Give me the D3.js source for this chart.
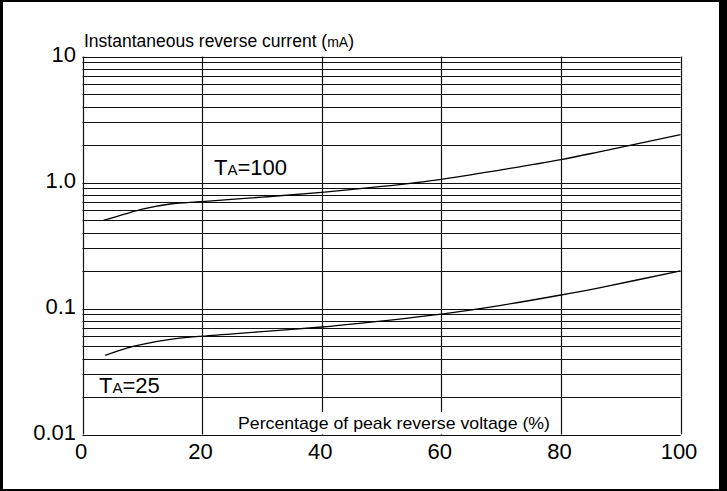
<!DOCTYPE html>
<html><head><meta charset="utf-8">
<script src="https://cdn.jsdelivr.net/npm/d3@7"></script>
<style>html,body{margin:0;padding:0;background:#fff;}svg{display:block;}</style>
</head><body>
<script>
// ---- data ----
const xTicks = [0, 20, 40, 60, 80, 100];
const yTicks = [10, 1.0, 0.1, 0.01];
const yTickLabels = ["10", "1.0", "0.1", "0.01"];
const pct100 = [3.5, 7, 10, 14.7, 20, 30, 40, 50, 60, 70, 80, 86.4, 100];
const cur100 = [0.50, 0.56, 0.615, 0.675, 0.705, 0.765, 0.835, 0.93, 1.06, 1.26, 1.52, 1.75, 2.40];
const pct25 = [3.8, 7.4, 10, 14.7, 20, 30, 40, 46.3, 60, 70, 80, 86.4, 100];
const cur25 = [0.0425, 0.0485, 0.052, 0.0568, 0.0603, 0.0655, 0.0713, 0.0763, 0.0904, 0.106, 0.128, 0.146, 0.199];
const yTitle = "Instantaneous reverse current (";
const yUnit = "mA";
const xTitle = "Percentage of peak reverse voltage (%)";

const W = 727, H = 491;
const svg = d3.select("body").append("svg").attr("width", W).attr("height", H);
const font = "'Liberation Sans', Arial, sans-serif";

// frame
svg.append("rect").attr("x", 0).attr("y", 0).attr("width", W).attr("height", H).attr("fill", "#000");
svg.append("rect").attr("x", 3).attr("y", 2).attr("width", 716).attr("height", H - 4).attr("fill", "#fff");

const x = d3.scaleLinear().domain([0, 100]).range([82.5, 680.5]);
const y = d3.scaleLog().domain([0.01, 10]).range([434.5, 56.5]);

// horizontal grid (1..9 per decade)
const minor = [];
[0.01, 0.1, 1].forEach(d => { for (let k = 1; k <= 9; k++) minor.push(d * k); });
minor.push(10);
svg.append("g").selectAll("line").data(minor).join("line")
  .attr("x1", x(0)).attr("x2", x(100))
  .attr("y1", d => Math.round(y(d)) + 0.5).attr("y2", d => Math.round(y(d)) + 0.5)
  .attr("stroke", "#111").attr("stroke-width", 1.2);

// vertical grid
svg.append("g").selectAll("line").data(xTicks).join("line")
  .attr("x1", d => Math.round(x(d)) + 0.5).attr("x2", d => Math.round(x(d)) + 0.5)
  .attr("y1", y(10)).attr("y2", y(0.01))
  .attr("stroke", "#111").attr("stroke-width", 1.2);

// x title with white box
svg.append("rect").attr("x", 236).attr("y", 412).attr("width", 318).attr("height", 22).attr("fill", "#fff");
svg.append("text").attr("x", 238).attr("y", 428.5).attr("font-family", font).attr("font-size", 17)
  .attr("textLength", 312).attr("lengthAdjust", "spacingAndGlyphs").text(xTitle);

// y title
const yt = svg.append("text").attr("x", 84).attr("y", 46.5).attr("font-family", font).attr("font-size", 17.5);
yt.append("tspan").text(yTitle);
yt.append("tspan").attr("font-size", 14).text(yUnit);
yt.append("tspan").text(")");

// y tick labels
svg.append("g").selectAll("text").data(yTicks).join("text")
  .attr("x", 76).attr("y", d => y(d) + 5)
  .attr("text-anchor", "end").attr("font-family", font).attr("font-size", 22)
  .text((d, i) => yTickLabels[i]);

// x tick labels
svg.append("g").selectAll("text").data(xTicks).join("text")
  .attr("x", d => x(d) - 1.5).attr("y", 459)
  .attr("text-anchor", "middle").attr("font-family", font).attr("font-size", 22)
  .text(d => d);

// curves
const line = d3.line().x(d => x(d[0])).y(d => y(d[1])).curve(d3.curveCatmullRom.alpha(0.5));
[[pct100, cur100], [pct25, cur25]].forEach(([px, cy]) => {
  svg.append("path").datum(px.map((p, i) => [p, cy[i]])).attr("d", line)
    .attr("fill", "none").attr("stroke", "#000").attr("stroke-width", 1.3);
});

// series labels
function tlabel(xp, yp, num) {
  const t = svg.append("text").attr("x", xp).attr("y", yp).attr("font-family", font).attr("font-size", 22);
  t.append("tspan").text("T");
  t.append("tspan").attr("font-size", 15).text("A");
  t.append("tspan").text("=" + num);
}
tlabel(214, 175, "100");
tlabel(99, 392.5, "25");
</script>
</body></html>
